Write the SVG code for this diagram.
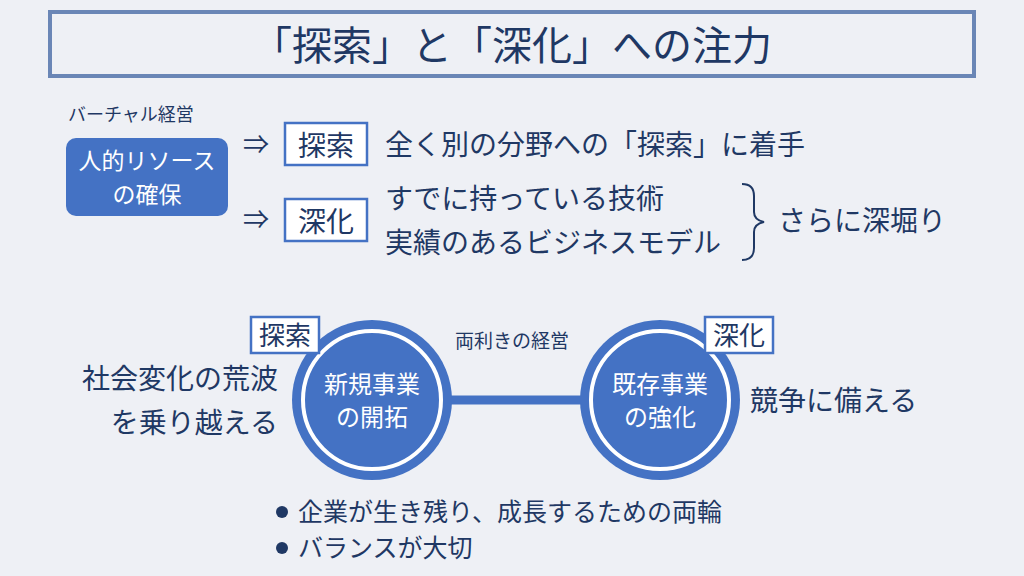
<svg xmlns="http://www.w3.org/2000/svg" width="1024" height="576" viewBox="0 0 1024 576">
<style>
text{font-family:"Noto Sans CJK JP","Noto Sans",sans-serif;fill:#1f3864}
.w{fill:#fff}
.tag{fill:#fff;stroke:#4472c4;stroke-width:2.5}
</style>
<rect width="1024" height="576" fill="#eef0f5"/>
<g id="title"><rect x="50" y="12" width="924" height="64" fill="#eef0f5" stroke="#6a86b6" stroke-width="4"/>
<text x="512" y="60" font-size="40" text-anchor="middle">「探索」と「深化」への注力</text></g>
<text x="68" y="121" font-size="18">バーチャル経営</text>
<g id="resource"><rect x="66" y="138" width="162" height="78" rx="10" fill="#4472c4"/>
<text class="w" x="147" y="169" font-size="23" text-anchor="middle">人的リソース</text>
<text class="w" x="147" y="203" font-size="23" text-anchor="middle">の確保</text></g>
<text x="243" y="154" font-size="26">⇒</text>
<text x="243" y="229" font-size="26">⇒</text>
<g id="explore"><rect class="tag" x="285" y="123" width="82" height="42"/><text x="326" y="156" font-size="28" text-anchor="middle">探索</text></g>
<g id="deepen"><rect class="tag" x="285" y="199" width="82" height="42"/><text x="326" y="232" font-size="28" text-anchor="middle">深化</text></g>
<text x="385" y="155" font-size="28">全く別の分野への「探索」に着手</text>
<text x="385" y="209" font-size="28">すでに持っている技術</text>
<text x="385" y="253" font-size="28">実績のあるビジネスモデル</text>
<path d="M742 184 q12 0 12 12 v16 q0 8 10 10 q-10 2 -10 10 v16 q0 12 -12 12" fill="none" stroke="#1f3864" stroke-width="2"/>
<text x="778" y="231" font-size="28">さらに深堀り</text>
<g id="connectors"><line x1="440" y1="400" x2="595" y2="400" stroke="#4472c4" stroke-width="9"/></g>
<text x="512" y="348" font-size="19" text-anchor="middle">両利きの経営</text>
<g id="new"><circle cx="372" cy="400" r="80" fill="#4472c4"/><circle cx="372" cy="400" r="69" fill="none" stroke="#fff" stroke-width="4"/>
<text class="w" x="372" y="393" font-size="24" text-anchor="middle">新規事業</text><text class="w" x="372" y="426" font-size="24" text-anchor="middle">の開拓</text></g>
<g id="exist"><circle cx="660" cy="400" r="80" fill="#4472c4"/><circle cx="660" cy="400" r="69" fill="none" stroke="#fff" stroke-width="4"/>
<text class="w" x="660" y="393" font-size="24" text-anchor="middle">既存事業</text><text class="w" x="660" y="426" font-size="24" text-anchor="middle">の強化</text></g>
<g id="tag1"><rect class="tag" x="251" y="317" width="68" height="36"/><text x="285" y="345" font-size="26" text-anchor="middle">探索</text></g>
<g id="tag2"><rect class="tag" x="705" y="317" width="68" height="36"/><text x="739" y="345" font-size="26" text-anchor="middle">深化</text></g>
<text x="278" y="389" font-size="28" text-anchor="end">社会変化の荒波</text>
<text x="278" y="433" font-size="28" text-anchor="end">を乗り越える</text>
<text x="750" y="411" font-size="28">競争に備える</text>
<circle cx="282" cy="512" r="6" fill="#1f3864"/><text x="298" y="521" font-size="25">企業が生き残り、成長するための両輪</text>
<circle cx="282" cy="548" r="6" fill="#1f3864"/><text x="298" y="557" font-size="25">バランスが大切</text>
</svg>
